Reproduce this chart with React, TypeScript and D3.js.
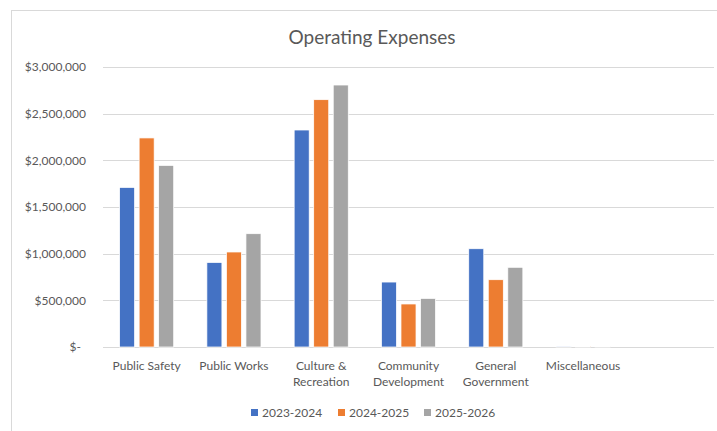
import React, { useEffect, useRef } from "react";
import * as d3 from "d3";

const categories = ["Public Safety", "Public Works", "Culture & Recreation", "Community Development", "General Government", "Miscellaneous", ""];
const seriesNames = ["2023-2024", "2024-2025", "2025-2026"];
const fy2324 = [1710000, 906000, 2325000, 696000, 1053000, 9000, null];
const fy2425 = [2240000, 1018000, 2650000, 461000, 721000, 8000, null];
const fy2526 = [1946000, 1214000, 2807000, 521000, 854000, 8000, null];
const yTicks = [0, 500000, 1000000, 1500000, 2000000, 2500000, 3000000];
const colors = ["#4472C4", "#ED7D31", "#A5A5A5"];

const FONT = "Lato, 'Open Sans', sans-serif";
const TEXT_COLOR = "#595959";

function App() {
    const ref = useRef<SVGSVGElement>(null);

    useEffect(() => {
        const svg = d3.select(ref.current);
        svg.selectAll("*").remove();

        const width = 717, height = 431;
        const margin = { top: 67, right: 3, bottom: 84, left: 103 };
        const w = width - margin.left - margin.right;
        const h = height - margin.top - margin.bottom;

        // chart frame
        svg.append("rect")
            .attr("x", 11.5).attr("y", 10.5)
            .attr("width", width + 10).attr("height", height + 10)
            .attr("fill", "white").attr("stroke", "#d9d9d9");

        svg.append("text")
            .attr("x", 372).attr("y", 44)
            .attr("text-anchor", "middle")
            .style("font-family", FONT).style("font-size", "19px")
            .attr("fill", TEXT_COLOR)
            .text("Operating Expenses");

        const g = svg.append("g").attr("transform", `translate(${margin.left}, ${margin.top})`);

        const x0 = d3.scaleBand().domain(categories).range([0, w]).paddingInner(0.38).paddingOuter(0.19);
        const x1 = d3.scaleBand().domain(seriesNames).range([0, x0.bandwidth()]).paddingInner(0.23);
        const y = d3.scaleLinear().domain([0, 3000000]).range([h, 0]);

        // gridlines
        g.selectAll(".grid").data(yTicks).join("line").attr("class", "grid")
            .attr("x1", 0).attr("x2", w)
            .attr("y1", d => Math.round(y(d)) + 0.5).attr("y2", d => Math.round(y(d)) + 0.5)
            .attr("stroke", "#d9d9d9").attr("stroke-width", 1);

        // y tick labels
        const fmt = d3.format("$,");
        g.selectAll(".ylab").data(yTicks).join("text").attr("class", "ylab")
            .attr("x", d => d === 0 ? -22 : -17)
            .attr("y", d => y(d))
            .attr("dy", "0.35em")
            .attr("text-anchor", "end")
            .style("font-family", FONT).style("font-size", "12px")
            .attr("fill", TEXT_COLOR)
            .text(d => d === 0 ? "$-" : fmt(d));

        // bars
        const values = [fy2324, fy2425, fy2526];
        const rows = categories.map((c, i) => ({ cat: c, vals: seriesNames.map((s, j) => ({ s, v: values[j][i], j })) }));

        const groups = g.selectAll(".grp").data(rows).join("g").attr("class", "grp")
            .attr("transform", d => `translate(${x0(d.cat)}, 0)`);
        groups.selectAll("rect").data(d => d.vals.filter(e => e.v != null)).join("rect")
            .attr("x", d => x1(d.s))
            .attr("y", d => y(d.v))
            .attr("width", x1.bandwidth())
            .attr("height", d => h - y(d.v))
            .attr("fill", d => colors[d.j])
            .attr("stroke", "white").attr("stroke-width", 0.75);

        // x labels with wrapping
        const xl = g.selectAll(".xlab").data(categories).join("text").attr("class", "xlab")
            .attr("text-anchor", "middle")
            .style("font-family", FONT).style("font-size", "12px")
            .attr("fill", TEXT_COLOR);
        xl.each(function (d) {
            const t = d3.select(this);
            const cx = x0(d) + x0.bandwidth() / 2;
            const words = d.split(" ");
            let lines: string[] = [];
            let line = "";
            const probe = t.append("tspan");
            words.forEach(word => {
                const test = line ? line + " " + word : word;
                probe.text(test);
                if ((probe.node() as SVGTSpanElement).getComputedTextLength() > 80 && line) {
                    lines.push(line);
                    line = word;
                } else {
                    line = test;
                }
            });
            probe.remove();
            if (line) lines.push(line);
            lines.forEach((l, i) => {
                t.append("tspan").attr("x", cx).attr("y", h + 23 + i * 16).text(l);
            });
        });

        // legend
        const legend = svg.append("g").attr("transform", "translate(251, 413)");
        const offsets = [0, 87, 173];
        seriesNames.forEach((s, i) => {
            const lg = legend.append("g").attr("transform", `translate(${offsets[i]}, 0)`);
            lg.append("rect").attr("x", 0).attr("y", -4).attr("width", 7).attr("height", 7).attr("fill", colors[i]);
            lg.append("text").attr("x", 11).attr("y", 0).attr("dy", "0.35em")
                .style("font-family", FONT).style("font-size", "12px")
                .attr("fill", TEXT_COLOR).text(s);
        });
    }, []);

    return (
        <svg ref={ref} width={717} height={431} style={{ position: "absolute", left: 0, top: 0, background: "white" }}></svg>
    );
}

export default App;
